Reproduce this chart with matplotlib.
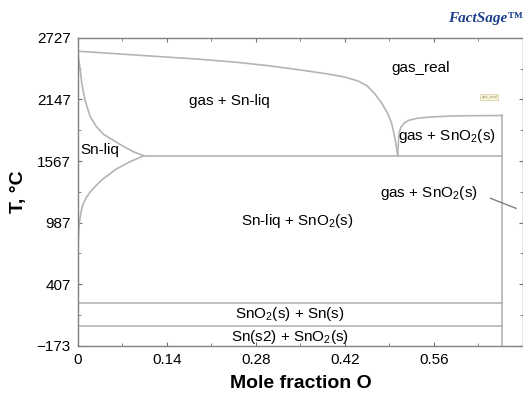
import matplotlib.pyplot as plt
import numpy as np

plt.rcParams['font.family'] = ['Liberation Sans', 'DejaVu Sans']
plt.rcParams['mathtext.fontset'] = 'custom'
plt.rcParams['mathtext.rm'] = 'Liberation Sans'
plt.rcParams['mathtext.it'] = 'Liberation Sans:italic'

# phase boundaries (mole fraction O, T in C)
gas_top_x = [0.0, 0.05, 0.10, 0.192, 0.25, 0.30, 0.35, 0.39, 0.42, 0.44, 0.455, 0.466, 0.477, 0.487, 0.493, 0.497, 0.500, 0.503]
gas_top_t = [2602, 2582, 2562, 2526, 2497, 2465, 2425, 2390, 2358, 2322, 2275, 2206, 2120, 2017, 1930, 1828, 1730, 1617]

liq_up_x = [0.0, 0.001, 0.003, 0.006, 0.011, 0.019, 0.029, 0.040, 0.055, 0.070, 0.087, 0.1035]
liq_up_t = [2602, 2530, 2456, 2300, 2142, 1990, 1891, 1820, 1765, 1710, 1655, 1617]

liq_lo_x = [0.0, 0.001, 0.002, 0.005, 0.008, 0.014, 0.02, 0.03, 0.04, 0.06, 0.08, 0.1035]
liq_lo_t = [720, 880, 980, 1090, 1160, 1230, 1280, 1345, 1400, 1490, 1555, 1617]

sno2_gas_x = [0.503, 0.504, 0.505, 0.508, 0.513, 0.520, 0.534, 0.555, 0.587, 0.62, 0.667]
sno2_gas_t = [1617, 1730, 1828, 1885, 1923, 1950, 1970, 1982, 1991, 1994, 1996]

x_sno2 = 0.667
t_eut = 1617
t_sn_melt = 232
t_sn_trans = 13
t_top_sno2 = 1996

xticks = [0, 0.14, 0.28, 0.42, 0.56]
yticks = [-173, 407, 987, 1567, 2147, 2727]

line_c = '#b4b4b4'

fig = plt.figure(figsize=(5.23, 3.95), dpi=100)
ax = fig.add_axes([0.149, 0.125, 0.851, 0.779])

ax.plot(gas_top_x, gas_top_t, color=line_c, lw=1.2)
ax.plot(liq_up_x, liq_up_t, color=line_c, lw=1.2)
ax.plot(liq_lo_x, liq_lo_t, color=line_c, lw=1.2)
ax.plot(sno2_gas_x, sno2_gas_t, color=line_c, lw=1.2)
ax.plot([liq_up_x[-1], x_sno2], [t_eut, t_eut], color=line_c, lw=1.2)
ax.plot([0, x_sno2], [t_sn_melt, t_sn_melt], color=line_c, lw=1.2)
ax.plot([0, x_sno2], [t_sn_trans, t_sn_trans], color=line_c, lw=1.2)
ax.plot([x_sno2, x_sno2], [-173, t_top_sno2], color=line_c, lw=1.2)
# pointer for the narrow region
ax.plot([0.649, 0.689], [1215, 1121], color='#808080', lw=1.0)

ax.set_xlim(0, 0.7)
ax.set_ylim(-173, 2727)
ax.set_xticks(xticks)
ax.set_xticklabels(['0', '0.14', '0.28', '0.42', '0.56'])
ax.set_yticks(yticks)
ax.set_xticks(np.arange(0, 0.71, 0.07), minor=True)
ax.set_yticks(np.arange(-173, 2728, 290), minor=True)
ax.tick_params(which='both', direction='in', top=True, right=True, color='#707070',
               labelsize=11, pad=5)
ax.tick_params(which='major', length=3)
ax.tick_params(which='minor', length=2)
for s in ax.spines.values():
    s.set_color('#808080')
    s.set_linewidth(1.0)

ax.set_xlabel('Mole fraction O', fontsize=14, fontweight='bold')
ax.set_ylabel('T, °C', fontsize=14, fontweight='bold')
ax.xaxis.set_label_coords(0.5, -0.095)
ax.yaxis.set_label_coords(-0.115, 0.5)

fs = 11
ax.text(0.539, 2444, 'gas_real', fontsize=fs, ha='center', va='center')
ax.text(0.238, 2133, 'gas + Sn-liq', fontsize=fs, ha='center', va='center')
ax.text(0.004, 1671, 'Sn-liq', fontsize=fs, ha='left', va='center')
ax.text(0.580, 1803, 'gas + SnO$_2$(s)', fontsize=fs, ha='center', va='center')
ax.text(0.552, 1265, 'gas + SnO$_2$(s)', fontsize=fs, ha='center', va='center')
ax.text(0.345, 1001, 'Sn-liq + SnO$_2$(s)', fontsize=fs, ha='center', va='center')
ax.text(0.333, 124, 'SnO$_2$(s) + Sn(s)', fontsize=fs, ha='center', va='center')
ax.text(0.333, -90, 'Sn(s2) + SnO$_2$(s)', fontsize=fs, ha='center', va='center')

ax.text(0.647, 2171, 'gas_real', fontsize=3, ha='center', va='center', color='#8a8a50',
        bbox=dict(boxstyle='square,pad=0.3', fc='#f8f4d8', ec='#d8d0a0', lw=0.5))

fig.text(0.999, 0.952, 'FactSage™', fontsize=11, fontweight='bold', fontstyle='italic',
         family='Liberation Serif', color='#1c3f8c', ha='right', va='center')

fig.savefig('out.png', dpi=100)
